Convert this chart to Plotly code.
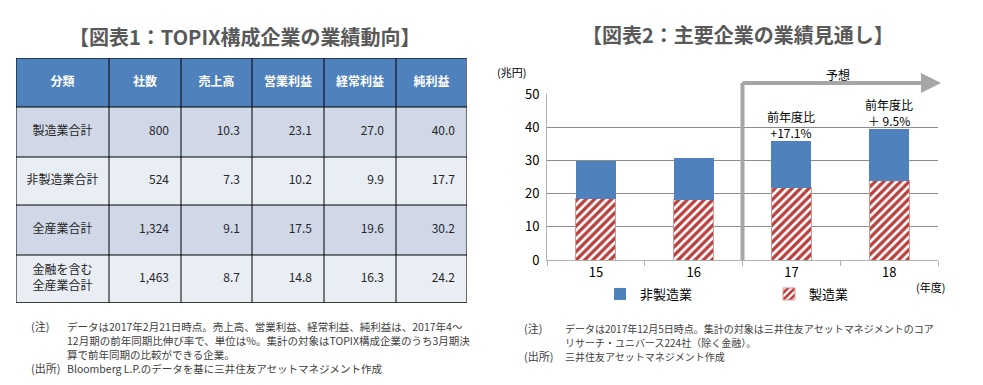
import plotly.graph_objects as go

# page body has an 8px margin; the figure is sized to sit inside it
OFF = 8
FW, FH = 975, 377
FONT = "Noto Sans CJK JP"

# ---- Table data (図表1) ----
header = ["分類", "社数", "売上高", "営業利益", "経常利益", "純利益"]
segments = ["製造業合計", "非製造業合計", "全産業合計", "金融を含む<br>全産業合計"]
companies = ["800", "524", "1,324", "1,463"]
sales = [10.3, 7.3, 9.1, 8.7]
operating = [23.1, 10.2, 17.5, 14.8]
ordinary = [27.0, 9.9, 19.6, 16.3]
net_income = [40.0, 17.7, 30.2, 24.2]

# ---- Bar chart data (図表2) ----
years = ["15", "16", "17", "18"]
manufacturing = [18.4, 18.1, 21.7, 23.9]
non_manufacturing = [11.3, 12.6, 14.1, 15.5]
growth_labels = ["", "", "+17.1%", "＋ 9.5%"]


def px_x(x):
    return (x - OFF) / FW


def px_y(y):
    return 1 - (y - OFF) / FH


fig = go.Figure()

# ---------------- Table (drawn on its own axes: x2 / y2) ----------------
col_edges = [0, 93, 165, 236, 308, 380, 451]
row_edges = [0, 49, 99, 147, 197, 245]
row_style = [0, 1, 2, 1, 2]  # header, then alternating bands
ncol = len(header)
nrow = len(segments)

fig.add_trace(go.Heatmap(
    x=col_edges, y=row_edges,
    z=[[s] * ncol for s in row_style],
    zmin=0, zmax=2,
    colorscale=[[0, "#4F81BD"], [0.5, "#D0D8E8"], [1, "#E9EDF4"]],
    showscale=False, hoverinfo="skip",
    xaxis="x2", yaxis="y2",
))

col_centers = [(col_edges[i] + col_edges[i + 1]) / 2 for i in range(ncol)]
row_centers = [(row_edges[i] + row_edges[i + 1]) / 2 for i in range(nrow + 1)]

fig.add_trace(go.Scatter(
    x=col_centers, y=[row_centers[0]] * ncol, mode="text",
    text=[f"<b>{h}</b>" for h in header], textposition="middle center",
    textfont=dict(family=FONT, size=12, color="white"),
    hoverinfo="skip", showlegend=False, xaxis="x2", yaxis="y2", cliponaxis=False,
))
fig.add_trace(go.Scatter(
    x=[col_centers[0]] * nrow, y=row_centers[1:], mode="text",
    text=segments, textposition="middle center",
    textfont=dict(family=FONT, size=12, color="#262626"),
    hoverinfo="skip", showlegend=False, xaxis="x2", yaxis="y2", cliponaxis=False,
))
numeric_cols = [companies,
                [f"{v:.1f}" for v in sales],
                [f"{v:.1f}" for v in operating],
                [f"{v:.1f}" for v in ordinary],
                [f"{v:.1f}" for v in net_income]]
nx, ny, nt = [], [], []
for ci, col in enumerate(numeric_cols, start=1):
    for ri, val in enumerate(col):
        nx.append(col_edges[ci + 1] - 12)
        ny.append(row_centers[ri + 1])
        nt.append(val)
fig.add_trace(go.Scatter(
    x=nx, y=ny, mode="text", text=nt, textposition="middle left",
    textfont=dict(family=FONT, size=12, color="#262626"),
    hoverinfo="skip", showlegend=False, xaxis="x2", yaxis="y2", cliponaxis=False,
))

shapes = []
for xe in col_edges:
    is_outer = xe == col_edges[-1]
    shapes.append(dict(type="line", xref="x2", yref="y2", x0=xe, x1=xe, y0=row_edges[0], y1=row_edges[-1],
                       line=dict(color="#6E6E6E" if is_outer else "#000000", width=2 if is_outer else 1)))
for ye in row_edges:
    is_outer = ye == row_edges[-1]
    shapes.append(dict(type="line", xref="x2", yref="y2", x0=col_edges[0], x1=col_edges[-1], y0=ye, y1=ye,
                       line=dict(color="#3C3C3C" if is_outer else "#000000", width=2 if is_outer else 1)))

# ---------------- Bar chart ----------------
fig.add_trace(go.Bar(
    x=years, y=manufacturing, name="製造業",
    marker=dict(color="white",
                pattern=dict(shape="/", fgcolor="#B8403D", bgcolor="white", fgopacity=1,
                             size=6, solidity=0.55),
                line=dict(color="#D99694", width=1)),
    xaxis="x", yaxis="y",
))
fig.add_trace(go.Bar(
    x=years, y=non_manufacturing, name="非製造業",
    marker=dict(color="#4F81BD", line=dict(width=0)),
    xaxis="x", yaxis="y",
))

totals = [m + n for m, n in zip(manufacturing, non_manufacturing)]

annotations = []
annotations.append(dict(text="<b>【図表1：TOPIX構成企業の業績動向】</b>", x=px_x(245), y=px_y(36),
                        xref="paper", yref="paper", xanchor="center", yanchor="middle", showarrow=False,
                        font=dict(family=FONT, size=20, color="#595959")))
annotations.append(dict(text="<b>【図表2：主要企業の業績見通し】</b>", x=px_x(738), y=px_y(35),
                        xref="paper", yref="paper", xanchor="center", yanchor="middle", showarrow=False,
                        font=dict(family=FONT, size=20, color="#595959")))
for i, (tot, lab) in enumerate(zip(totals, growth_labels)):
    if lab:
        annotations.append(dict(text="前年度比<br>" + lab, x=i, y=tot, xref="x", yref="y",
                                xanchor="center", yanchor="bottom", showarrow=False, yshift=-2,
                                font=dict(family=FONT, size=12, color="#000000")))
annotations.append(dict(text="予想", x=px_x(838), y=px_y(74), xref="paper", yref="paper",
                        xanchor="center", yanchor="middle",
                        showarrow=False, font=dict(family=FONT, size=12, color="#000000")))
annotations.append(dict(x=px_x(941), y=px_y(83), xref="paper", yref="paper",
                        ax=-(941 - 741), ay=0, axref="pixel", ayref="pixel",
                        text="", showarrow=True, arrowhead=2, arrowsize=1.0, arrowwidth=4,
                        arrowcolor="#A6A6A6"))
annotations.append(dict(text="(兆円)", x=px_x(495), y=px_y(72), xref="paper", yref="paper",
                        xanchor="left", yanchor="middle", showarrow=False,
                        font=dict(family=FONT, size=11, color="#000000")))
annotations.append(dict(text="(年度)", x=px_x(914), y=px_y(287), xref="paper", yref="paper",
                        xanchor="left", yanchor="middle", showarrow=False,
                        font=dict(family=FONT, size=11, color="#000000")))

shapes.append(dict(type="line", xref="x", yref="paper", x0=1.5, x1=1.5, y0=px_y(260), y1=px_y(83),
                   line=dict(color="#A6A6A6", width=4)))


def note(text, x, y, size):
    return dict(text=text, x=px_x(x), y=px_y(y), xref="paper", yref="paper",
                xanchor="left", yanchor="middle", align="left", showarrow=False,
                font=dict(family=FONT, size=size, color="#404040"))


# left notes
left_lines = ["データは2017年2月21日時点。売上高、営業利益、経常利益、純利益は、2017年4～",
              "12月期の前年同期比伸び率で、単位は%。集計の対象はTOPIX構成企業のうち3月期決",
              "算で前年同期の比較ができる企業。",
              "Bloomberg L.P.のデータを基に三井住友アセットマネジメント作成"]
left_ys = [326, 340, 354, 368]
annotations.append(note("(注)", 29, left_ys[0], 11))
annotations.append(note("(出所)", 29, left_ys[3], 11))
for t, yy in zip(left_lines, left_ys):
    annotations.append(note(t, 65, yy, 10.5))

# right notes
right_lines = ["データは2017年12月5日時点。集計の対象は三井住友アセットマネジメントのコア",
               "リサーチ・ユニバース224社（除く金融）。",
               "三井住友アセットマネジメント作成"]
right_ys = [328, 342, 356]
annotations.append(note("(注)", 522, right_ys[0], 11))
annotations.append(note("(出所)", 522, right_ys[2], 11))
for t, yy in zip(right_lines, right_ys):
    annotations.append(note(t, 563, yy, 10))

fig.update_layout(
    width=FW, height=FH,
    margin=dict(l=0, r=0, t=0, b=0, autoexpand=False),
    paper_bgcolor="white", plot_bgcolor="white",
    barmode="stack", bargap=0.59,
    font=dict(family=FONT, size=12, color="#000000"),
    xaxis=dict(domain=[px_x(547), px_x(938)], type="category", range=[-0.5, 3.5], fixedrange=True,
               showline=True, linecolor="#B0B0B0", linewidth=1, automargin=False,
               ticks="outside", tickson="boundaries", ticklen=5, tickcolor="#B0B0B0", tickangle=0,
               showgrid=False, tickfont=dict(family=FONT, size=13, color="#000000")),
    yaxis=dict(domain=[px_y(260), px_y(94)], range=[0, 50], dtick=10, showline=True, automargin=False,
               linecolor="#B0B0B0", linewidth=1, gridcolor="#8C8C8C", gridwidth=1, fixedrange=True,
               ticks="", ticklabelstandoff=4,
               tickfont=dict(family=FONT, size=13, color="#000000"), zeroline=False),
    xaxis2=dict(domain=[px_x(16), px_x(467)], range=[col_edges[0], col_edges[-1]], visible=False,
                fixedrange=True),
    yaxis2=dict(domain=[px_y(303), px_y(58)], range=[row_edges[-1], row_edges[0]], visible=False,
                fixedrange=True),
    legend=dict(orientation="h", traceorder="reversed", x=px_x(600), y=px_y(279), yanchor="top",
                xanchor="left", entrywidth=124, entrywidthmode="pixels", itemwidth=30,
                font=dict(family=FONT, size=13, color="#000000"), bgcolor="rgba(0,0,0,0)"),
    annotations=annotations,
    shapes=shapes,
)

fig.write_html("out.html")
